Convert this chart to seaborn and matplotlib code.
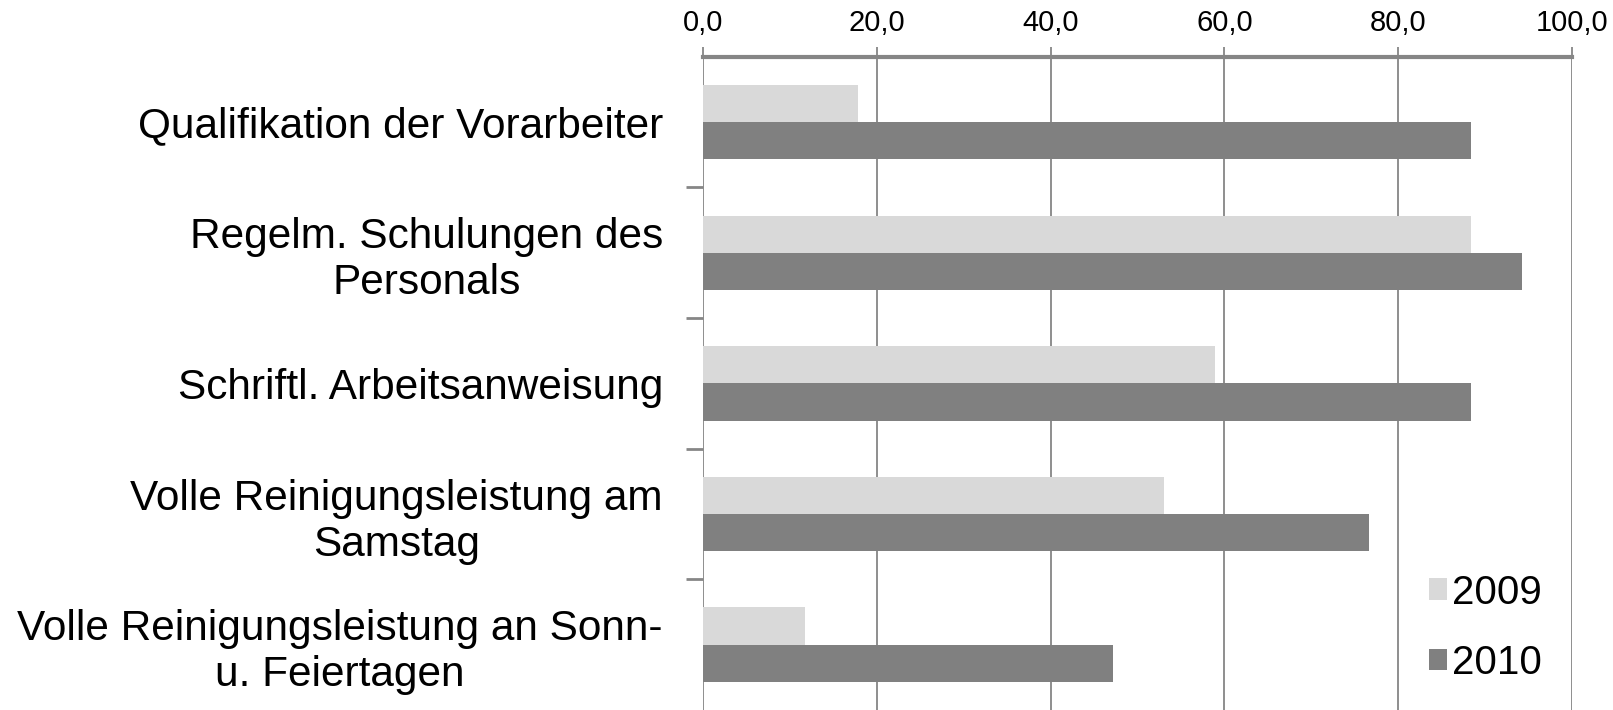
import pandas as pd
import seaborn as sns
import matplotlib.pyplot as plt
from matplotlib.ticker import FuncFormatter, FixedLocator


categories = [
    'Qualifikation der Vorarbeiter',
    'Regelm. Schulungen des\nPersonals',
    'Schriftl. Arbeitsanweisung',
    'Volle Reinigungsleistung am\nSamstag',
    'Volle Reinigungsleistung an Sonn-\nu. Feiertagen',
]
years = ['2009', '2010']
values_2009 = [17.8, 88.4, 58.9, 53.1, 11.7]
values_2010 = [88.4, 94.3, 88.4, 76.7, 47.2]
x_ticks = [0, 20, 40, 60, 80, 100]

df = pd.DataFrame({
    'Kategorie': categories * 2,
    'Jahr': [years[0]] * len(categories) + [years[1]] * len(categories),
    'Wert': values_2009 + values_2010,
})

sns.set_style('white')
plt.rcParams['font.family'] = ['Liberation Sans', 'DejaVu Sans']
plt.rcParams['text.color'] = 'black'
plt.rcParams['xtick.color'] = 'black'
plt.rcParams['ytick.color'] = 'black'

grey = '#868686'

fig = plt.figure(figsize=(16.13, 7.10), dpi=100)
ax = fig.add_axes([0.436, 0.0, 0.5385, 0.92])

sns.barplot(data=df, y='Kategorie', x='Wert', hue='Jahr', orient='h',
            palette=['#d9d9d9', '#808080'], width=0.57, saturation=1,
            linewidth=0, ax=ax, zorder=3)

ax.set_xlim(0, 100)
ax.set_xticks(x_ticks)
ax.xaxis.set_major_formatter(FuncFormatter(lambda v, p: f'{v:.1f}'.replace('.', ',')))
ax.xaxis.tick_top()
ax.xaxis.set_label_position('top')
ax.set_xlabel('')
ax.set_ylabel('')
ax.grid(axis='x', color=grey, linewidth=1.3, zorder=0)
ax.set_axisbelow(True)

for s in ['left', 'right', 'bottom']:
    ax.spines[s].set_visible(False)
ax.spines['top'].set_color(grey)
ax.spines['top'].set_linewidth(3)

ax.tick_params(axis='x', which='major', length=7, width=1.3, color=grey,
               labelsize=21, pad=7, direction='out', labelcolor='black')

# category labels, no ticks; separator ticks between categories
ax.tick_params(axis='y', which='major', length=0, pad=29, labelsize=30.5,
               labelcolor='black')
for lbl in ax.get_yticklabels():
    lbl.set_multialignment('center')
ax.yaxis.set_minor_locator(FixedLocator([0.5, 1.5, 2.5, 3.5]))
ax.tick_params(axis='y', which='minor', length=12, width=2, color=grey,
               direction='out', left=True)

leg = ax.legend(loc='lower right', bbox_to_anchor=(0.998, 0.0), frameon=False,
                fontsize=29, handlelength=0.45, handleheight=0.45,
                handletextpad=0.12, labelspacing=0.8, borderpad=0.2)

fig.savefig('out.png', dpi=100)
